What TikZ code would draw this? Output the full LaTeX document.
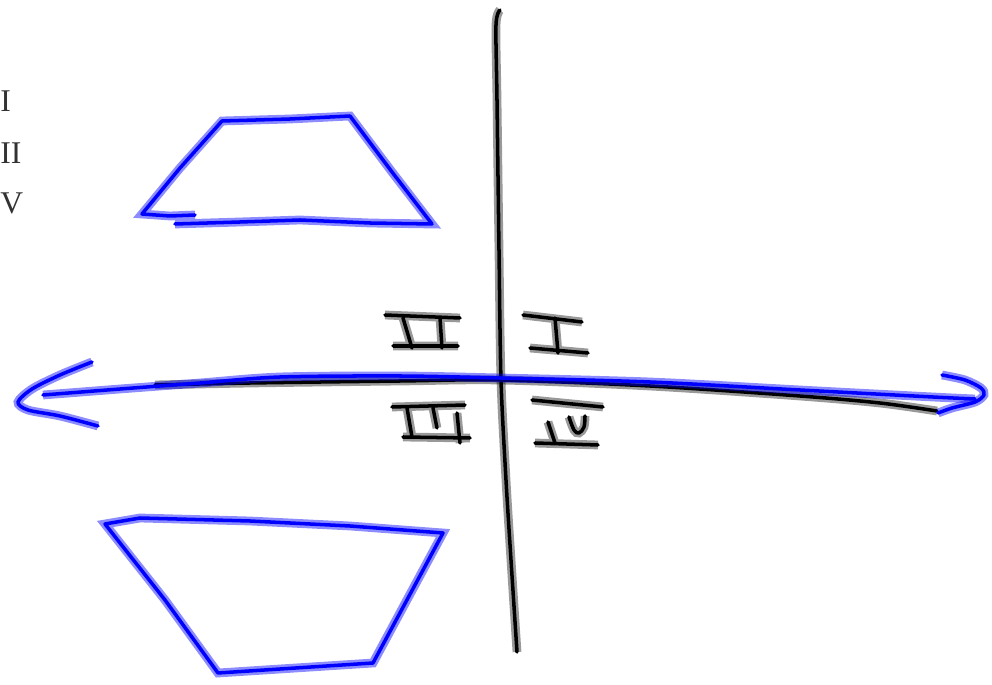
\documentclass[tikz,border=0pt]{standalone}
\usepackage{fontspec}
\setmainfont{Liberation Serif}
\tikzset{
  inkblack/.style={line width=2pt,black,line cap=round,line join=round,
    preaction={draw=black,draw opacity=0.4,line width=5pt}},
  inkblue/.style={line width=2pt,blue,line cap=round,line join=round,
    preaction={draw=blue,draw opacity=0.45,line width=5pt}},
  margintext/.style={anchor=west,inner sep=0pt,text=black!80,font=\fontsize{18}{22}\selectfont}
}
\begin{document}
\begin{tikzpicture}[x=0.02cm,y=-0.02cm]
\useasboundingbox (0,0) rectangle (992,685);
% short list on the left edge
\node[margintext] (txtI) at (0,101) {I};
\node[margintext] (txtII) at (0,153) {II};
\node[margintext] (txtV) at (0,203) {V};
% axes
\draw[inkblack] plot[smooth,tension=0.5] coordinates {(500,10) (496,25) (497,100) (499,250) (501,380) (506,480) (511,560) (517,652)};
\draw[inkblack] plot[smooth,tension=0.5] coordinates {(155,385) (250,383) (400,381) (500,380) (650,386) (800,396) (880,403) (937,411)};
\draw[inkblue] plot[smooth,tension=0.5] coordinates {(43,395) (120,389) (200,383) (280,377) (400,376) (500,378) (650,382) (800,390) (933,397) (975,399)};
\draw[inkblue] plot[smooth,tension=0.5] coordinates {(92,362) (60,375) (32,389) (18,402) (28,410) (60,416) (98,426)};
\draw[inkblue] plot[smooth,tension=0.5] coordinates {(942,375) (965,380) (981,388) (984,395) (975,402) (952,408) (938,413)};
% trapezoids
\draw[inkblue] (195,215) -- (170,216) -- (142,214) -- (180,168) -- (222,121) -- (290,119) -- (350,116) -- (392,172) -- (432,224) -- (370,223) -- (300,220) -- (240,222) -- (175,224);
\draw[inkblue] (105,524) -- (140,518) -- (250,521) -- (350,526) -- (443,533) -- (373,663) -- (218,673) -- (165,600) -- cycle;
% quadrant numbers
\draw[inkblack] (385,315) -- (460,318) (393,346) -- (458,346) (403,318) -- (412,348) (440,318) -- (442,348);
\draw[inkblack] (523,315) -- (582,322) (555,318) -- (558,353) (530,348) -- (588,353);
\draw[inkblack] (392,407) -- (465,405) (403,437) -- (470,438) (407,408) -- (412,437) (433,408) -- (437,428) (457,413) -- (460,443);
\draw[inkblack] (532,400) -- (603,407) (535,443) -- (598,445) (548,422) -- (555,443);
\draw[inkblack] plot[smooth,tension=0.6] coordinates {(569,417) (574,430) (579,433) (584,427) (585,416)};
\end{tikzpicture}
\end{document}
